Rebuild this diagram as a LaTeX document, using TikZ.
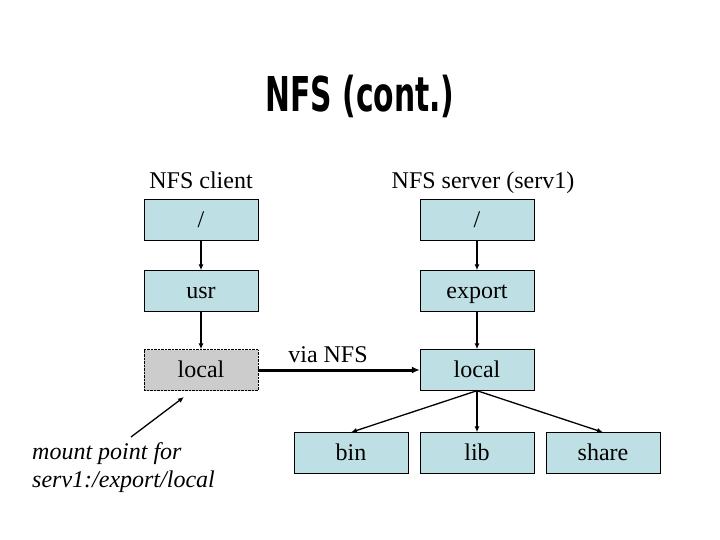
\documentclass[tikz,border=0pt]{standalone}
\usepackage{fontspec}
\setmainfont{Liberation Serif}
\newfontfamily\titlefont[FakeStretch=0.62]{DejaVu Sans Bold}
\usetikzlibrary{arrows.meta}
\definecolor{boxblue}{RGB}{190,224,228}
\definecolor{boxgray}{RGB}{204,204,204}
\tikzset{
  dirbox/.style={draw=black, fill=boxblue, minimum width=114pt, minimum height=41pt, inner sep=0pt, text height=18pt, text depth=3pt, font=\fontsize{24}{28}\selectfont},
  mountbox/.style={dirbox, fill=boxgray, densely dotted},
  thin arrow/.style={draw, line width=1.3pt, -{Latex[length=6pt,width=5pt]}},
  thick arrow/.style={draw, line width=3pt, -{Latex[length=8pt,width=7pt]}},
  lbl/.style={font=\fontsize{24}{28}\selectfont, inner sep=0pt, text height=18pt, text depth=3pt}
}
\begin{document}
\begin{tikzpicture}[x=1pt,y=-1pt]
\useasboundingbox (0,0) rectangle (720,540);
\node[font=\titlefont\fontsize{48}{54}\selectfont, inner sep=0pt] (title) at (360,96) {NFS (cont.)};
\node[lbl] (clientlbl) at (201,181) {NFS client};
\node[lbl] (serverlbl) at (483,181) {NFS server (serv1)};
\node[dirbox] (croot) at (201,220) {/};
\node[dirbox] (cusr) at (201,291) {usr};
\node[mountbox] (clocal) at (201,370) {local};
\node[dirbox] (sroot) at (477,220) {/};
\node[dirbox] (sexport) at (477,291) {export};
\node[dirbox] (slocal) at (477,370) {local};
\node[dirbox] (bin) at (351,453) {bin};
\node[dirbox] (lib) at (477,453) {lib};
\node[dirbox] (share) at (603,453) {share};
\node[lbl] (via) at (328,355) {via NFS};
\node[font=\itshape\fontsize{24}{28}\selectfont, inner sep=0pt, align=left, anchor=west] (mount) at (32,468) {mount point for\\serv1:/export/local};
\coordinate (mstart) at (131,437);
\coordinate (mend) at (184,397);
\draw[thin arrow] (croot) -- (cusr);
\draw[thin arrow] (cusr) -- (clocal);
\draw[thin arrow] (sroot) -- (sexport);
\draw[thin arrow] (sexport) -- (slocal);
\draw[thick arrow] (clocal) -- (slocal);
\draw[thin arrow] (slocal.south) -- (bin.north);
\draw[thin arrow] (slocal.south) -- (lib.north);
\draw[thin arrow] (slocal.south) -- (share.north);
\draw[thin arrow] (mstart) -- (mend);
\end{tikzpicture}
\end{document}
